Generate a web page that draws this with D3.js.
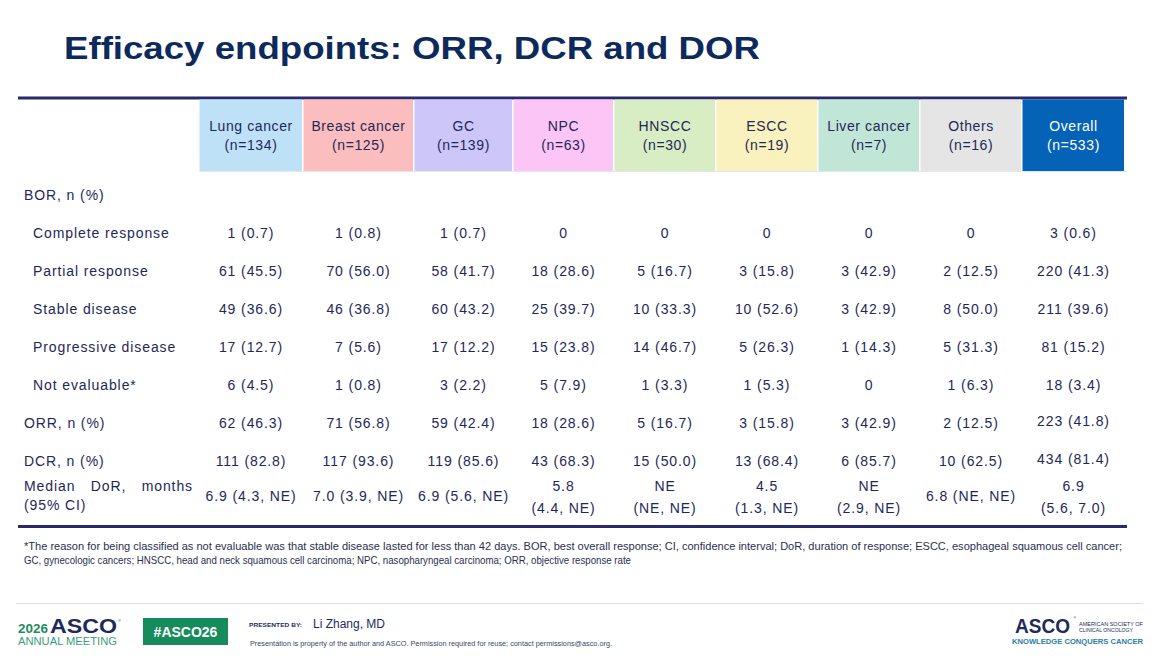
<!DOCTYPE html>
<html>
<head>
<meta charset="utf-8">
<script src="https://cdn.jsdelivr.net/npm/d3@7"></script>
<style>
  html, body { margin: 0; padding: 0; background: #fff; }
  svg { display: block; font-family: "Liberation Sans", Arial, sans-serif; }
</style>
</head>
<body>
<svg id="chart" width="1165" height="661"></svg>
<script>
// ---------------- DATA ----------------
const title = "Efficacy endpoints: ORR, DCR and DOR";
const categories = ["Lung cancer", "Breast cancer", "GC", "NPC", "HNSCC", "ESCC", "Liver cancer", "Others", "Overall"];
const sampleSizes = [134, 125, 139, 63, 30, 19, 7, 16, 533];
const headerColors = ["#bfe1f8", "#fbbdbd", "#cdc6f8", "#fbc5f6", "#d8edc4", "#f9f1be", "#c1e5d7", "#e5e5e5", "#0563b7"];

const rowLabels = ["BOR, n (%)", "Complete response", "Partial response", "Stable disease",
                   "Progressive disease", "Not evaluable*", "ORR, n (%)", "DCR, n (%)", "Median DoR, months (95% CI)"];
const rowIndent = [false, true, true, true, true, true, false, false, false];

const bor = ["", "", "", "", "", "", "", "", ""];
const completeResponse = ["1 (0.7)", "1 (0.8)", "1 (0.7)", "0", "0", "0", "0", "0", "3 (0.6)"];
const partialResponse = ["61 (45.5)", "70 (56.0)", "58 (41.7)", "18 (28.6)", "5 (16.7)", "3 (15.8)", "3 (42.9)", "2 (12.5)", "220 (41.3)"];
const stableDisease = ["49 (36.6)", "46 (36.8)", "60 (43.2)", "25 (39.7)", "10 (33.3)", "10 (52.6)", "3 (42.9)", "8 (50.0)", "211 (39.6)"];
const progressiveDisease = ["17 (12.7)", "7 (5.6)", "17 (12.2)", "15 (23.8)", "14 (46.7)", "5 (26.3)", "1 (14.3)", "5 (31.3)", "81 (15.2)"];
const notEvaluable = ["6 (4.5)", "1 (0.8)", "3 (2.2)", "5 (7.9)", "1 (3.3)", "1 (5.3)", "0", "1 (6.3)", "18 (3.4)"];
const orr = ["62 (46.3)", "71 (56.8)", "59 (42.4)", "18 (28.6)", "5 (16.7)", "3 (15.8)", "3 (42.9)", "2 (12.5)", "223 (41.8)"];
const dcr = ["111 (82.8)", "117 (93.6)", "119 (85.6)", "43 (68.3)", "15 (50.0)", "13 (68.4)", "6 (85.7)", "10 (62.5)", "434 (81.4)"];
const medianDoR = [["6.9 (4.3, NE)"], ["7.0 (3.9, NE)"], ["6.9 (5.6, NE)"], ["5.8", "(4.4, NE)"], ["NE", "(NE, NE)"],
                   ["4.5", "(1.3, NE)"], ["NE", "(2.9, NE)"], ["6.8 (NE, NE)"], ["6.9", "(5.6, 7.0)"]];

const footnote1 = "*The reason for being classified as not evaluable was that stable disease lasted for less than 42 days. BOR, best overall response; CI, confidence interval; DoR, duration of response; ESCC, esophageal squamous cell cancer;";
const footnote2 = "GC, gynecologic cancers; HNSCC, head and neck squamous cell carcinoma; NPC, nasopharyngeal carcinoma; ORR, objective response rate";
const presenter = "Li Zhang, MD";

// ---------------- LAYOUT ----------------
const svg = d3.select("#chart");
const navy = "#1e2858";
const ruleColor = "#29296b";
const colEdges = [199, 303, 414, 513, 614, 716, 818, 920, 1022, 1125];

const xLeft = d3.scaleOrdinal().domain(categories).range(colEdges.slice(0, 9));
const xRight = d3.scaleOrdinal().domain(categories).range(colEdges.slice(1));
const xMid = c => (xLeft(c) + xRight(c)) / 2;

const rowsMain = rowLabels.slice(0, 8);
const y = d3.scalePoint().domain(rowsMain).range([195, 461]);
const yDoR = 496;

const cellValues = [bor, completeResponse, partialResponse, stableDisease, progressiveDisease, notEvaluable, orr, dcr];

// Title
svg.append("text")
  .attr("x", 64).attr("y", 59)
  .attr("font-size", 32).attr("font-weight", "bold")
  .attr("fill", "#0d2a5c")
  .attr("textLength", 696).attr("lengthAdjust", "spacingAndGlyphs")
  .text(title);

// Top rule
svg.append("rect").attr("x", 18).attr("y", 96.5).attr("width", 1109).attr("height", 3).attr("fill", ruleColor);

// Header cells
const hdr = svg.append("g");
hdr.selectAll("rect").data(categories).join("rect")
  .attr("x", d => xLeft(d) + 0.5)
  .attr("y", 99.5)
  .attr("width", d => xRight(d) - xLeft(d) - 1.5)
  .attr("height", 71.5)
  .attr("fill", (d, i) => headerColors[i]);

hdr.selectAll("text").data(categories).join("text")
  .attr("x", d => xMid(d))
  .attr("text-anchor", "middle")
  .attr("font-size", 14)
  .attr("letter-spacing", 0.6)
  .attr("fill", (d, i) => i === categories.length - 1 ? "#ffffff" : navy)
  .each(function (d, i) {
    const t = d3.select(this);
    t.append("tspan").attr("x", xMid(d)).attr("y", 131).text(d);
    t.append("tspan").attr("x", xMid(d)).attr("y", 150).text("(n=" + sampleSizes[i] + ")");
  });

// thin line under header
svg.append("line").attr("x1", 199).attr("x2", 1127).attr("y1", 171.5).attr("y2", 171.5)
  .attr("stroke", "#e3e8ee").attr("stroke-width", 1);

// Row labels
const labels = svg.append("g").attr("font-size", 14).attr("fill", navy).attr("letter-spacing", 0.9);
labels.selectAll("text.row").data(rowsMain).join("text")
  .attr("class", "row")
  .attr("x", (d, i) => rowIndent[i] ? 33 : 24)
  .attr("y", d => y(d) + 5)
  .text(d => d);

// Median DoR label (justified first line)
const dorWords = ["Median", "DoR,", "months"];
const dorG = labels.append("g");
const wordEls = dorG.selectAll("text").data(dorWords).join("text").attr("y", 491).text(d => d);
const widths = [];
wordEls.each(function () { widths.push(this.getComputedTextLength()); });
const lineStart = 24, lineEnd = 193;
const gap = (lineEnd - lineStart - d3.sum(widths)) / (dorWords.length - 1);
let cx = lineStart;
wordEls.attr("x", (d, i) => { const v = cx; cx += widths[i] + gap; return v; });
labels.append("text").attr("x", 24).attr("y", 510).text("(95% CI)");

// Cell values
const body = svg.append("g").attr("font-size", 14).attr("fill", navy).attr("letter-spacing", 0.9).attr("text-anchor", "middle");
rowsMain.forEach((r, ri) => {
  body.selectAll(null).data(cellValues[ri]).join("text")
    .attr("x", (d, i) => xMid(categories[i]))
    .attr("y", (d, i) => y(r) + 5 - (i === 8 && (ri === 6 || ri === 7) ? 2 : 0))
    .text(d => d);
});
body.selectAll(null).data(medianDoR).join("text")
  .attr("x", (d, i) => xMid(categories[i]))
  .each(function (lines, i) {
    const t = d3.select(this);
    if (lines.length === 1) {
      t.append("tspan").attr("x", xMid(categories[i])).attr("y", yDoR + 5).text(lines[0]);
    } else {
      t.append("tspan").attr("x", xMid(categories[i])).attr("y", yDoR - 10 + 5).text(lines[0]);
      t.append("tspan").attr("x", xMid(categories[i])).attr("y", yDoR + 12 + 5).text(lines[1]);
    }
  });

// Bottom rule
svg.append("rect").attr("x", 18).attr("y", 525).attr("width", 1109).attr("height", 3).attr("fill", ruleColor);

// Footnotes
const fn = svg.append("g").attr("font-size", 11).attr("fill", "#2a2f4f");
fn.append("text").attr("x", 24).attr("y", 550).attr("textLength", 1098).attr("lengthAdjust", "spacingAndGlyphs").text(footnote1);
fn.append("text").attr("x", 24).attr("y", 564).attr("textLength", 607).attr("lengthAdjust", "spacingAndGlyphs").text(footnote2);

// Footer line
svg.append("line").attr("x1", 16).attr("x2", 1143).attr("y1", 603.5).attr("y2", 603.5)
  .attr("stroke", "#dedede").attr("stroke-width", 1);

// Left logo: 2026 ASCO ANNUAL MEETING
const logo = svg.append("g");
logo.append("text").attr("x", 18).attr("y", 633).attr("font-size", 13).attr("font-weight", "bold")
  .attr("fill", "#1f8b5f").attr("textLength", 30).attr("lengthAdjust", "spacingAndGlyphs").text("2026");
logo.append("text").attr("x", 50).attr("y", 633).attr("font-size", 20).attr("font-weight", "bold")
  .attr("fill", "#1d2b5c").attr("textLength", 67).attr("lengthAdjust", "spacingAndGlyphs").text("ASCO");
logo.append("text").attr("x", 118).attr("y", 622).attr("font-size", 4).attr("fill", "#1d2b5c").text("®");
logo.append("text").attr("x", 18).attr("y", 645).attr("font-size", 11)
  .attr("fill", "#3a9c7c").attr("textLength", 99).attr("lengthAdjust", "spacingAndGlyphs").text("ANNUAL MEETING");

logo.append("rect").attr("x", 143).attr("y", 618).attr("width", 85).attr("height", 27).attr("fill", "#168b5c");
logo.append("text").attr("x", 185.5).attr("y", 637).attr("text-anchor", "middle").attr("font-size", 14)
  .attr("font-weight", "bold").attr("fill", "#ffffff").text("#ASCO26");

logo.append("text").attr("x", 249).attr("y", 627).attr("font-size", 6).attr("font-weight", "bold")
  .attr("fill", "#1d2b5c").attr("textLength", 53).attr("lengthAdjust", "spacingAndGlyphs").text("PRESENTED BY:");
logo.append("text").attr("x", 313).attr("y", 628).attr("font-size", 12).attr("fill", "#1d2b5c").text(presenter);
logo.append("text").attr("x", 250).attr("y", 646).attr("font-size", 6.5).attr("fill", "#3a4468")
  .attr("textLength", 362).attr("lengthAdjust", "spacingAndGlyphs")
  .text("Presentation is property of the author and ASCO. Permission required for reuse; contact permissions@asco.org.");

// Right logo
const rl = svg.append("g");
rl.append("text").attr("x", 1015).attr("y", 633).attr("font-size", 21).attr("font-weight", "bold")
  .attr("fill", "#1d2b5c").attr("textLength", 55).attr("lengthAdjust", "spacingAndGlyphs").text("ASCO");
rl.append("text").attr("x", 1073.5).attr("y", 619).attr("font-size", 3.5).attr("fill", "#1d2b5c").text("®");
rl.append("text").attr("x", 1079).attr("y", 625.5).attr("font-size", 5).attr("fill", "#1d2b5c")
  .attr("textLength", 64).attr("lengthAdjust", "spacingAndGlyphs").text("AMERICAN SOCIETY OF");
rl.append("text").attr("x", 1079).attr("y", 631.5).attr("font-size", 5).attr("fill", "#1d2b5c")
  .attr("textLength", 54).attr("lengthAdjust", "spacingAndGlyphs").text("CLINICAL ONCOLOGY");
rl.append("text").attr("x", 1012).attr("y", 644).attr("font-size", 7).attr("font-weight", "bold")
  .attr("fill", "#2a7fa3").attr("textLength", 131).attr("lengthAdjust", "spacingAndGlyphs").text("KNOWLEDGE CONQUERS CANCER");
</script>
</body>
</html>
